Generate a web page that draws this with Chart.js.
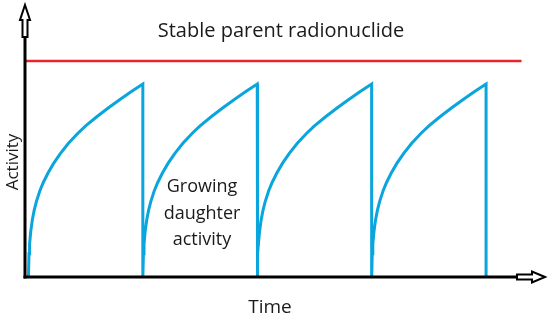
<!DOCTYPE html>
<html>
<head>
<meta charset="utf-8">
<script src="https://cdn.jsdelivr.net/npm/chart.js@4/dist/chart.umd.min.js"></script>
<style>
  html, body { margin: 0; padding: 0; background: #fff; }
  #wrap { width: 550px; height: 322px; }
</style>
</head>
<body>
<div id="wrap"><canvas id="decayChart"></canvas></div>
<script>
// parent (flat) level
const parentTime = [0, 4.34];
const parentLevel = [1.12, 1.12];

// daughter activity, four growth cycles, each cut back to zero
const daughterTime = [
  0.03, 0.035, 0.04, 0.05, 0.065, 0.08, 0.10, 0.13, 0.16, 0.20, 0.25, 0.31, 0.38, 0.46, 0.53, 0.63, 0.73, 0.83, 0.93, 1.03, 1.03,
  1.035, 1.04, 1.05, 1.065, 1.08, 1.10, 1.13, 1.16, 1.20, 1.25, 1.31, 1.38, 1.46, 1.53, 1.63, 1.73, 1.83, 1.93, 2.03, 2.03,
  2.035, 2.04, 2.05, 2.065, 2.08, 2.10, 2.13, 2.16, 2.20, 2.25, 2.31, 2.38, 2.46, 2.53, 2.63, 2.73, 2.83, 2.93, 3.03, 3.03,
  3.035, 3.04, 3.05, 3.065, 3.08, 3.10, 3.13, 3.16, 3.20, 3.25, 3.31, 3.38, 3.46, 3.53, 3.63, 3.73, 3.83, 3.93, 4.03, 4.03
];
const daughterActivity = [
  0, 0.12, 0.17, 0.235, 0.30, 0.345, 0.392, 0.447, 0.49, 0.538, 0.589, 0.641, 0.693, 0.744, 0.783, 0.832, 0.877, 0.92, 0.961, 1.0, 0,
  0.12, 0.17, 0.235, 0.30, 0.345, 0.392, 0.447, 0.49, 0.538, 0.589, 0.641, 0.693, 0.744, 0.783, 0.832, 0.877, 0.92, 0.961, 1.0, 0,
  0.12, 0.17, 0.235, 0.30, 0.345, 0.392, 0.447, 0.49, 0.538, 0.589, 0.641, 0.693, 0.744, 0.783, 0.832, 0.877, 0.92, 0.961, 1.0, 0,
  0.12, 0.17, 0.235, 0.30, 0.345, 0.392, 0.447, 0.49, 0.538, 0.589, 0.641, 0.693, 0.744, 0.783, 0.832, 0.877, 0.92, 0.961, 1.0, 0
];

const labels = {
  parent: "Stable parent radionuclide",
  daughter: ["Growing", "daughter", "activity"],
  x: "Time",
  y: "Activity"
};

const toPoints = (xs, ys) => xs.map((x, i) => ({ x: x, y: ys[i] }));

/* axes with hollow arrows + text */
const sketchPlugin = {
  id: "sketch",
  afterDatasetsDraw(chart) {
    const ctx = chart.ctx;
    const a = chart.chartArea;
    const x0 = a.left, y0 = a.bottom;

    ctx.save();
    ctx.strokeStyle = "#000";
    ctx.lineWidth = 3;
    ctx.lineCap = "butt";

    // y axis
    ctx.beginPath();
    ctx.moveTo(x0, y0 + 1.5);
    ctx.lineTo(x0, 37);
    ctx.stroke();

    // x axis
    ctx.beginPath();
    ctx.moveTo(x0 - 1.5, y0);
    ctx.lineTo(517, y0);
    ctx.stroke();

    // hollow arrow heads
    ctx.lineWidth = 2;
    ctx.lineJoin = "miter";
    ctx.fillStyle = "#fff";

    ctx.beginPath();
    ctx.moveTo(x0, 5);
    ctx.lineTo(x0 + 5, 20);
    ctx.lineTo(x0 + 2.5, 20);
    ctx.lineTo(x0 + 2.5, 37);
    ctx.lineTo(x0 - 2.5, 37);
    ctx.lineTo(x0 - 2.5, 20);
    ctx.lineTo(x0 - 5, 20);
    ctx.closePath();
    ctx.fill();
    ctx.stroke();

    ctx.beginPath();
    ctx.moveTo(545, y0);
    ctx.lineTo(532, y0 - 5.5);
    ctx.lineTo(532, y0 - 2.5);
    ctx.lineTo(517, y0 - 2.5);
    ctx.lineTo(517, y0 + 2.5);
    ctx.lineTo(532, y0 + 2.5);
    ctx.lineTo(532, y0 + 5.5);
    ctx.closePath();
    ctx.fill();
    ctx.stroke();

    // text
    ctx.fillStyle = "#1a1a1a";
    ctx.textAlign = "center";
    ctx.textBaseline = "alphabetic";
    ctx.font = "20px 'Open Sans'";
    ctx.fillText(labels.parent, 281, 37);

    ctx.font = "19px 'Open Sans'";
    ctx.fillText(labels.x, 270, 313);

    ctx.font = "18px 'Open Sans'";
    labels.daughter.forEach((line, i) => {
      ctx.fillText(line, 202, 192 + i * 26.5);
    });

    ctx.save();
    ctx.translate(18, 162);
    ctx.rotate(-Math.PI / 2);
    ctx.font = "17px 'Open Sans'";
    ctx.fillText(labels.y, 0, 0);
    ctx.restore();

    ctx.restore();
  }
};

new Chart(document.getElementById("decayChart"), {
  type: "line",
  data: {
    datasets: [
      {
        label: "parent",
        data: toPoints(parentTime, parentLevel),
        borderColor: "#e8252d",
        borderWidth: 2.5,
        pointRadius: 0,
        tension: 0
      },
      {
        label: "daughter",
        data: toPoints(daughterTime, daughterActivity),
        borderColor: "#0aa5dc",
        borderWidth: 3,
        pointRadius: 0,
        tension: 0,
        clip: 4
      }
    ]
  },
  options: {
    responsive: true,
    maintainAspectRatio: false,
    animation: false,
    layout: { padding: { left: 25, right: 1, top: 5, bottom: 45 } },
    plugins: {
      legend: { display: false },
      tooltip: { enabled: false }
    },
    scales: {
      x: { type: "linear", min: 0, max: 4.58, display: false },
      y: { min: 0, max: 1.41, display: false }
    }
  },
  plugins: [sketchPlugin]
});
</script>
</body>
</html>
